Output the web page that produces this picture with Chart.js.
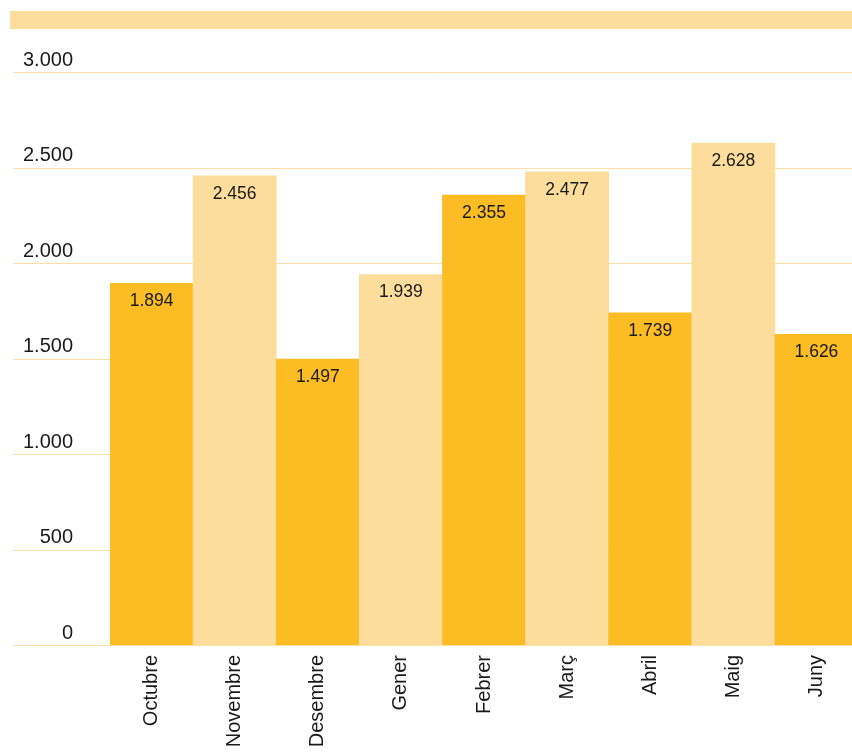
<!DOCTYPE html>
<html lang="ca">
<head>
<meta charset="utf-8">
<title>Mesos</title>
<script src="https://cdn.jsdelivr.net/npm/chart.js@4/dist/chart.umd.min.js"></script>
<style>
  html, body { margin: 0; padding: 0; background: #fff; overflow: hidden; }
  .banda { position: absolute; left: 10px; top: 11px; width: 860px; height: 18px; background: #fcdd9c; }
  .grafic { position: absolute; left: 0; top: 0; width: 860px; height: 790px; }
</style>
</head>
<body>
<div class="banda"></div>
<div class="grafic"><canvas id="graficMesos"></canvas></div>
<script>
const mesos = ["Octubre", "Novembre", "Desembre", "Gener", "Febrer", "Març", "Abril", "Maig", "Juny"];
const valors = [1894, 2456, 1497, 1939, 2355, 2477, 1739, 2628, 1626];
const ticksY = [0, 500, 1000, 1500, 2000, 2500, 3000];

const COLOR_FOSC = "#fbbc24";
const COLOR_CLAR = "#fcdd9c";
const COLOR_REIXA = "#fce0a8";
const FONT = '"Liberation Sans", Arial, Helvetica, sans-serif';

// 1894 -> "1.894"
const ambPunts = (v) => String(v).replace(/\B(?=(\d{3})+(?!\d))/g, ".");

// línies horitzontals des del marge esquerre, per sota de les barres
const reixaLlarga = {
  id: "reixaLlarga",
  beforeDatasetsDraw(chart) {
    const { ctx, scales: { y } } = chart;
    ctx.save();
    ctx.strokeStyle = COLOR_REIXA;
    ctx.lineWidth = 1;
    ticksY.forEach(t => {
      const py = Math.round(y.getPixelForValue(t)) + 0.5;
      ctx.beginPath();
      ctx.moveTo(13, py);
      ctx.lineTo(chart.width, py);
      ctx.stroke();
    });
    ctx.restore();
  }
};

// valor escrit dins de cada barra, a prop del cim
const etiquetes = {
  id: "etiquetes",
  afterDatasetsDraw(chart) {
    const { ctx } = chart;
    const meta = chart.getDatasetMeta(0);
    ctx.save();
    ctx.fillStyle = "#1a1a1a";
    ctx.font = `17.5px ${FONT}`;
    ctx.textAlign = "center";
    ctx.textBaseline = "middle";
    meta.data.forEach((bar, i) => {
      ctx.fillText(ambPunts(valors[i]), bar.x, bar.y + 18);
    });
    ctx.restore();
  }
};

new Chart(document.getElementById("graficMesos").getContext("2d"), {
  type: "bar",
  data: {
    labels: mesos,
    datasets: [
      {
        data: valors,
        backgroundColor: valors.map((_, i) => (i % 2 === 0 ? COLOR_FOSC : COLOR_CLAR)),
        borderWidth: 0,
        categoryPercentage: 1,
        barPercentage: 1
      }
    ]
  },
  options: {
    responsive: true,
    maintainAspectRatio: false,
    animation: false,
    layout: { padding: { top: 72, left: 0, right: 2, bottom: 0 } },
    plugins: { legend: { display: false }, tooltip: { enabled: false } },
    scales: {
      x: {
        grid: { display: false, drawTicks: false },
        border: { display: false },
        ticks: {
          color: "#1a1a1a",
          font: { family: FONT, size: 20 },
          minRotation: 90,
          maxRotation: 90,
          autoSkip: false,
          padding: 10
        },
        afterFit: (scale) => { scale.height = 145; }
      },
      y: {
        min: 0,
        max: 3000,
        grid: { display: false, drawTicks: false },
        border: { display: false },
        afterBuildTicks: (scale) => { scale.ticks = ticksY.map(v => ({ value: v })); },
        ticks: {
          color: "#1a1a1a",
          font: { family: FONT, size: 20 },
          padding: 37,
          labelOffset: -12,
          callback: (v) => ambPunts(v)
        },
        afterFit: (scale) => { scale.width = 110; }
      }
    }
  },
  plugins: [reixaLlarga, etiquetes]
});
</script>
</body>
</html>
